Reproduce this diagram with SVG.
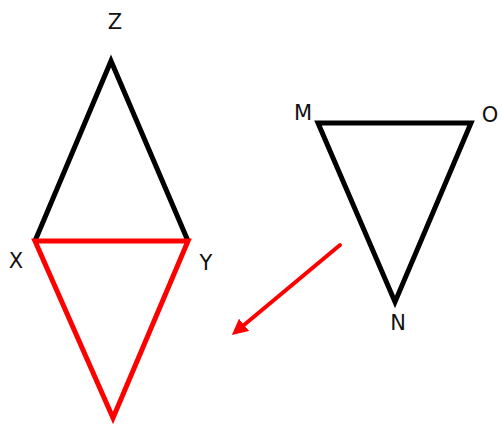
<svg xmlns="http://www.w3.org/2000/svg" width="501" height="426" viewBox="0 0 501 426">
<style>
.lbl{font-family:"DejaVu Sans","Liberation Sans",sans-serif;font-size:21px;fill:#111;text-anchor:middle}
.blk{fill:none;stroke:#000;stroke-width:5;stroke-linejoin:miter}
.red{fill:none;stroke:#f00;stroke-width:5;stroke-linejoin:miter}
</style>
<defs>
<marker id="ah" markerWidth="4" markerHeight="4" refX="2" refY="2" orient="auto" markerUnits="strokeWidth">
<path d="M0,0 L4,2 L0,4 z" fill="#f00"/>
</marker>
</defs>
<rect width="501" height="426" fill="#fff"/>
<g id="triangle-XYZ">
<polyline class="blk" points="35,241 111,61 188,241"/>
</g>
<g id="triangle-XY-red">
<polygon class="red" points="35,241 188,241 113,418"/>
</g>
<g id="triangle-MON">
<polygon class="blk" points="318,123 471,123 395,302"/>
</g>
<g id="connectors">
<line x1="340" y1="245" x2="238" y2="330" stroke="#f00" stroke-width="4" stroke-linecap="round" marker-end="url(#ah)"/>
</g>
<g id="labels">
<text class="lbl" x="115" y="29">Z</text>
<text class="lbl" x="16" y="268">X</text>
<text class="lbl" x="206" y="270">Y</text>
<text class="lbl" x="303" y="120">M</text>
<text class="lbl" x="490" y="122">O</text>
<text class="lbl" x="398" y="330">N</text>
</g>
</svg>
